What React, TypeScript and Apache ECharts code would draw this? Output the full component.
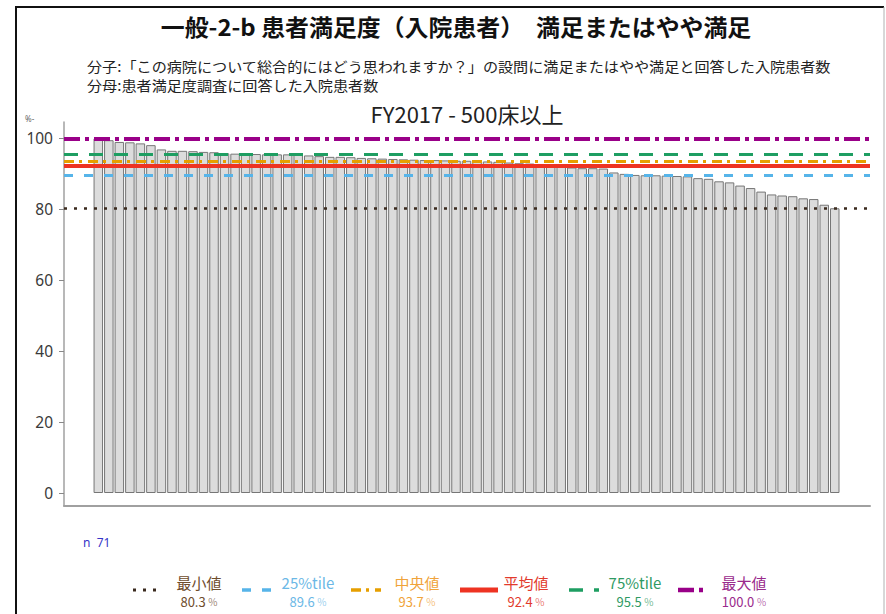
import React, { useEffect, useRef } from "react";
import * as echarts from "echarts";

const titleText = "一般-2-b 患者満足度（入院患者）　満足またはやや満足";
const numeratorText =
  "分子:「この病院について総合的にはどう思われますか？」の設問に満足またはやや満足と回答した入院患者数";
const denominatorText = "分母:患者満足度調査に回答した入院患者数";
const subTitleText = "FY2017 - 500床以上";
const nLabel = "n  71";
const yUnitText = "%-";

// 71 hospitals, sorted descending (% satisfied or somewhat satisfied)
const satisfaction = [
  100.0, 99.5, 99.0, 98.9, 98.6, 98.1, 96.9, 96.5, 96.5, 96.4,
  96.2, 96.1, 95.8, 95.7, 95.6, 95.6, 95.5, 95.5, 95.5, 95.4,
  95.2, 95.0, 94.8, 94.8, 94.7, 94.5, 94.4, 94.3, 94.2, 94.1,
  94.0, 93.9, 93.9, 93.8, 93.7, 93.7, 93.6, 93.5, 93.4, 93.2,
  93.0, 92.9, 92.7, 92.4, 92.1, 91.8, 91.6, 91.6, 91.5, 90.4,
  90.0, 89.7, 89.6, 89.6, 89.5, 89.4, 89.3, 88.8, 88.6, 87.9,
  87.6, 86.7, 86.0, 85.0, 84.2, 83.9, 83.7, 83.1, 82.9, 81.3,
  80.3,
];
const hospitalRank = satisfaction.map((_, i) => i + 1);
const yTickValues = [0, 20, 40, 60, 80, 100];

const statNames = ["最小値", "25%tile", "中央値", "平均値", "75%tile", "最大値"];
const statValues = [80.3, 89.6, 93.7, 92.4, 95.5, 100.0];

// styles
const statLineColors = ["#3a2a1e", "#56B4E9", "#E69F00", "#EE3322", "#1E9E62", "#990088"];
const statTextColors = ["#6e4c2c", "#6bb8e6", "#f0a33a", "#e23a2c", "#2f9a63", "#9a2a8c"];
const statDashes: (number[] | "solid")[] = [
  [3, 7],
  [9, 11],
  [10, 5, 3, 6],
  "solid",
  [14, 11],
  [16, 5, 4, 5],
];
const statWidths = [2.5, 3, 3, 4, 3, 4];

const CJK = '"Noto Sans CJK JP", "Noto Sans", sans-serif';

export default function App() {
  const ref = useRef<HTMLDivElement>(null);

  useEffect(() => {
    if (!ref.current) return;
    const chart = echarts.init(ref.current, null, { renderer: "svg" });

    const legendGraphics: any[] = [];
    statNames.forEach((name, i) => {
      const x0 = 133 + i * 109;
      const len = i === 3 ? 38 : 30;
      legendGraphics.push({
        type: "line",
        shape: { x1: x0, y1: 590, x2: x0 + len, y2: 590 },
        style: {
          stroke: statLineColors[i],
          lineWidth: i === 3 ? 5 : statWidths[i] + 0.5,
          lineDash: statDashes[i] === "solid" ? null : (statDashes[i] as number[]),
        },
      });
      legendGraphics.push({
        type: "text",
        x: x0 + 66,
        y: 582,
        style: {
          text: name,
          fill: statTextColors[i],
          fontSize: 15,
          fontFamily: CJK,
          textAlign: "center",
          textVerticalAlign: "middle",
        },
      });
      legendGraphics.push({
        type: "text",
        x: x0 + 66,
        y: 601,
        style: {
          text: `{v|${statValues[i].toFixed(1)}} {p|%}`,
          fill: statTextColors[i],
          fontFamily: CJK,
          textAlign: "center",
          textVerticalAlign: "middle",
          rich: {
            v: { fontSize: 13, fill: statTextColors[i], fontFamily: CJK },
            p: { fontSize: 10, fill: statTextColors[i], fontFamily: CJK, opacity: 0.7 },
          },
        },
      });
    });

    const option: any = {
      animation: false,
      backgroundColor: "#ffffff",
      grid: { left: 64, right: 16, top: 122, bottom: 108, containLabel: false },
      xAxis: {
        type: "value",
        min: -2.26,
        max: 74.35,
        axisLine: { show: true, onZero: false, lineStyle: { color: "#a0a0a0", width: 2 } },
        axisTick: { show: false },
        axisLabel: { show: false },
        splitLine: { show: false },
      },
      yAxis: {
        type: "value",
        min: -3.666,
        max: 104.63,
        axisLine: { show: true, onZero: false, lineStyle: { color: "#a0a0a0", width: 1.5 } },
        axisTick: {
          show: true,
          length: 5,
          customValues: yTickValues,
          lineStyle: { color: "#888", width: 1 },
        },
        axisLabel: {
          show: true,
          customValues: yTickValues,
          margin: 11,
          fontSize: 15.5,
          color: "#3a3a3a",
          fontFamily: '"Noto Sans", sans-serif',
        },
        splitLine: { show: false },
      },
      series: [
        {
          type: "bar",
          data: hospitalRank.map((r, i) => [r, satisfaction[i]]),
          barWidth: 9.5,
          itemStyle: { color: "#dcdcdc", borderColor: "#767676", borderWidth: 1 },
          z: 2,
          markLine: {
            silent: true,
            symbol: ["none", "none"],
            label: { show: false },
            z: 5,
            data: statValues.map((v, i) => ({
              yAxis: v,
              lineStyle: {
                color: statLineColors[i],
                width: statWidths[i],
                type: statDashes[i],
              },
            })),
          },
        },
      ],
      graphic: [
        // frame
        { type: "line", shape: { x1: 16, y1: 7, x2: 16, y2: 614 }, style: { stroke: "#111", lineWidth: 2 } },
        { type: "line", shape: { x1: 15, y1: 7, x2: 884, y2: 7 }, style: { stroke: "#111", lineWidth: 2 } },
        { type: "line", shape: { x1: 884, y1: 7, x2: 884, y2: 614 }, style: { stroke: "#b0b0b0", lineWidth: 1 } },
        {
          type: "text",
          x: 456,
          y: 26,
          scaleX: 1.04,
          style: {
            text: titleText,
            fontSize: 23,
            fontWeight: "bold",
            fontFamily: CJK,
            fill: "#111",
            textAlign: "center",
            textVerticalAlign: "middle",
          },
        },
        {
          type: "text",
          x: 87,
          y: 65.5,
          scaleX: 1.08,
          style: {
            text: numeratorText,
            fontSize: 14,
            fontFamily: CJK,
            fill: "#222",
            textAlign: "left",
            textVerticalAlign: "middle",
          },
        },
        {
          type: "text",
          x: 87,
          y: 84.5,
          scaleX: 1.08,
          style: {
            text: denominatorText,
            fontSize: 14,
            fontFamily: CJK,
            fill: "#222",
            textAlign: "left",
            textVerticalAlign: "middle",
          },
        },
        {
          type: "text",
          x: 467,
          y: 113,
          style: {
            text: subTitleText,
            fontSize: 22,
            fontFamily: CJK,
            fill: "#222",
            textAlign: "center",
            textVerticalAlign: "middle",
          },
        },
        {
          type: "text",
          x: 25,
          y: 118,
          style: {
            text: yUnitText,
            fontSize: 8,
            fontFamily: '"Noto Sans", sans-serif',
            fill: "#666",
            textAlign: "left",
            textVerticalAlign: "middle",
          },
        },
        {
          type: "text",
          x: 83,
          y: 542,
          style: {
            text: nLabel,
            fontSize: 12,
            fontFamily: '"Noto Sans", sans-serif',
            fill: "#3535c8",
            textAlign: "left",
            textVerticalAlign: "middle",
          },
        },
        ...legendGraphics,
      ],
    };

    chart.setOption(option);
    return () => {
      chart.dispose();
    };
  }, []);

  return (
    <div
      ref={ref}
      style={{ position: "absolute", left: 0, top: 0, width: 886, height: 614, background: "#fff" }}
    />
  );
}
